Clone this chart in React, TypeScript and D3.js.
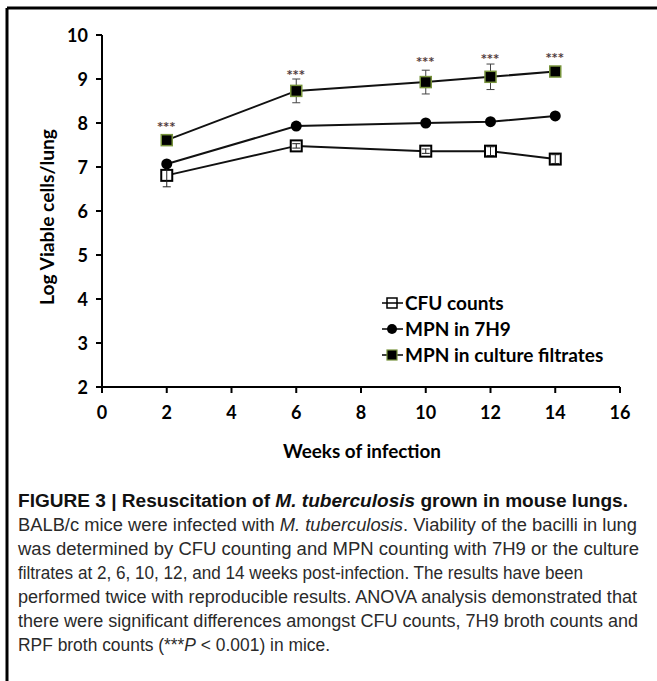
import React from "react";
import * as d3 from "d3";

const weeks = [2, 6, 10, 12, 14];
const cfu = [6.81, 7.48, 7.36, 7.36, 7.18];
const cfuErr = [0.26, 0.05, 0.05, 0.1, 0.1];
const mpn7h9 = [7.07, 7.93, 8.0, 8.03, 8.16];
const mpnFiltrate = [7.61, 8.73, 8.93, 9.05, 9.17];
const mpnFiltrateErr = [0, 0.27, 0.27, 0.29, 0];
const starLevels = [7.98, 9.17, 9.45, 9.52, 9.55];
const xTicks = [0, 2, 4, 6, 8, 10, 12, 14, 16];
const yTicks = [2, 3, 4, 5, 6, 7, 8, 9, 10];
const legendLabels = ["CFU counts", "MPN in 7H9", "MPN in culture filtrates"];

const W = 657;
const H = 681;
const axisFont = "Lato, 'Open Sans', sans-serif";
const capFont = "'Liberation Sans Narrow', 'Liberation Sans', Arial, sans-serif";

export default function App() {
  const xAxisScale = d3.scaleLinear().domain([0, 16]).range([102, 620]);
  const y = d3.scaleLinear().domain([2, 10]).range([387, 35]);
  const line = d3
    .line<[number, number]>()
    .x((d) => xAxisScale(d[0]))
    .y((d) => y(d[1]));
  const pts = (vals: number[]) => weeks.map((w, i) => [w, vals[i]] as [number, number]);
  const green = "#77933C";
  const sq = 11;

  const errBar = (w: number, v: number, e: number, key: string, color = "#444") => {
    if (!e) return null;
    const cx = xAxisScale(w);
    return (
      <g key={key} stroke={color} strokeWidth={1}>
        <line x1={cx} x2={cx} y1={y(v + e)} y2={y(v - e)} />
        <line x1={cx - 4} x2={cx + 4} y1={y(v + e)} y2={y(v + e)} />
        <line x1={cx - 4} x2={cx + 4} y1={y(v - e)} y2={y(v - e)} />
      </g>
    );
  };

  const capLines: { y: number; len: number; content: React.ReactNode; bold?: boolean }[] = [
    {
      y: 507,
      len: 610,
      bold: true,
      content: (
        <>
          FIGURE 3 | Resuscitation of <tspan fontStyle="italic">M. tuberculosis</tspan> grown in mouse lungs.
        </>
      ),
    },
    {
      y: 531,
      len: 619,
      content: (
        <>
          BALB/c mice were infected with <tspan fontStyle="italic">M. tuberculosis</tspan>. Viability of the bacilli in lung
        </>
      ),
    },
    { y: 555, len: 621, content: <>was determined by CFU counting and MPN counting with 7H9 or the culture</> },
    { y: 579, len: 565, content: <>filtrates at 2, 6, 10, 12, and 14 weeks post-infection. The results have been</> },
    { y: 603, len: 619, content: <>performed twice with reproducible results. ANOVA analysis demonstrated that</> },
    { y: 627, len: 620, content: <>there were significant differences amongst CFU counts, 7H9 broth counts and</> },
    {
      y: 651,
      len: 312,
      content: (
        <>
          RPF broth counts (***<tspan fontStyle="italic">P</tspan> {"<"} 0.001) in mice.
        </>
      ),
    },
  ];

  return (
    <svg
      width={W}
      height={H}
      style={{ position: "absolute", left: 0, top: 0, background: "#fff" }}
      xmlns="http://www.w3.org/2000/svg"
    >
      <rect x={0} y={0} width={W} height={H} fill="#fff" />
      {/* frame */}
      <line x1={7} x2={W} y1={8} y2={8} stroke="#000" strokeWidth={3} />
      <line x1={7} x2={7} y1={8} y2={H} stroke="#000" strokeWidth={3} />

      {/* axes */}
      <g stroke="#000" strokeWidth={2}>
        <line x1={xAxisScale(0)} x2={xAxisScale(0)} y1={y(10)} y2={y(2)} />
        <line x1={xAxisScale(0)} x2={xAxisScale(16)} y1={y(2)} y2={y(2)} />
        {yTicks.map((t) => (
          <line key={"yt" + t} x1={xAxisScale(0) - 6} x2={xAxisScale(0)} y1={y(t)} y2={y(t)} />
        ))}
        {xTicks.map((t) => (
          <line key={"xt" + t} x1={xAxisScale(t)} x2={xAxisScale(t)} y1={y(2)} y2={y(2) + 6} />
        ))}
      </g>
      <g fontFamily={axisFont} fontWeight={700} fontSize={18} fill="#000">
        {yTicks.map((t) => (
          <text key={"yl" + t} x={88} y={y(t) + 6.5} textAnchor="end">
            {t}
          </text>
        ))}
        {xTicks.map((t) => (
          <text key={"xl" + t} x={xAxisScale(t)} y={419} textAnchor="middle">
            {t}
          </text>
        ))}
        <text x={362} y={458} textAnchor="middle" fontSize={19} textLength={158} lengthAdjust="spacingAndGlyphs">
          Weeks of infection
        </text>
        <text
          transform="translate(54,217) rotate(-90)"
          textAnchor="middle"
          fontSize={19}
          textLength={176}
          lengthAdjust="spacingAndGlyphs"
        >
          Log Viable cells/lung
        </text>
      </g>

      {/* lines */}
      <g fill="none" stroke="#111" strokeWidth={2}>
        <path d={line(pts(cfu)) || ""} />
        <path d={line(pts(mpn7h9)) || ""} />
        <path d={line(pts(mpnFiltrate)) || ""} />
      </g>

      {/* CFU markers */}
      {weeks.map((w, i) => (
        <rect
          key={"cfu" + w}
          x={xAxisScale(w) - sq / 2}
          y={y(cfu[i]) - sq / 2}
          width={sq}
          height={sq}
          fill="#fff"
          stroke="#000"
          strokeWidth={2}
        />
      ))}
      {weeks.map((w, i) => errBar(w, cfu[i], cfuErr[i], "cfue" + w, "#222"))}

      {/* 7H9 markers */}
      {weeks.map((w, i) => (
        <circle key={"h9" + w} cx={xAxisScale(w)} cy={y(mpn7h9[i])} r={5.5} fill="#000" />
      ))}

      {/* filtrate */}
      {weeks.map((w, i) => errBar(w, mpnFiltrate[i], mpnFiltrateErr[i], "fe" + w))}
      {weeks.map((w, i) => (
        <rect
          key={"f" + w}
          x={xAxisScale(w) - sq / 2}
          y={y(mpnFiltrate[i]) - sq / 2}
          width={sq}
          height={sq}
          fill="#000"
          stroke={green}
          strokeWidth={1.5}
        />
      ))}

      {/* significance stars */}
      <g fontFamily="'DejaVu Sans', sans-serif" fontSize={10} fontWeight={700} fill="#1F2F55" stroke="#D09050" strokeWidth={0.2}>
        {weeks.map((w, i) => (
          <text key={"s" + w} x={xAxisScale(w)} y={y(starLevels[i]) + 6} textAnchor="middle" letterSpacing={1}>
            ***
          </text>
        ))}
      </g>

      {/* legend */}
      <g fontFamily={axisFont} fontWeight={700} fontSize={19} fill="#000">
        {legendLabels.map((lab, i) => {
          const ly = 303 + i * 26;
          const cx = 392;
          return (
            <g key={lab}>
              <line x1={382} x2={403} y1={ly} y2={ly} stroke="#000" strokeWidth={1.5} />
              {i === 0 && (
                <rect x={cx - 5} y={ly - 5} width={10} height={10} fill="#fff" stroke="#000" strokeWidth={1.5} />
              )}
              {i === 0 && <line x1={cx - 5} x2={cx + 5} y1={ly} y2={ly} stroke="#000" strokeWidth={1.5} />}
              {i === 1 && <circle cx={cx} cy={ly} r={5} fill="#000" />}
              {i === 2 && (
                <rect x={cx - 5} y={ly - 5} width={10} height={10} fill="#000" stroke={green} strokeWidth={1.2} />
              )}
              <text x={405} y={ly + 7}>
                {lab}
              </text>
            </g>
          );
        })}
      </g>

      {/* caption */}
      <g fontFamily={capFont} fontSize={17.5} fill="#222">
        {capLines.map((l, i) => (
          <text
            key={"c" + i}
            x={18}
            y={l.y}
            fontWeight={l.bold ? 700 : 400}
            fill={l.bold ? "#111" : "#2a2a2a"}
            textLength={l.len}
            lengthAdjust="spacingAndGlyphs"
          >
            {l.content}
          </text>
        ))}
      </g>
    </svg>
  );
}
